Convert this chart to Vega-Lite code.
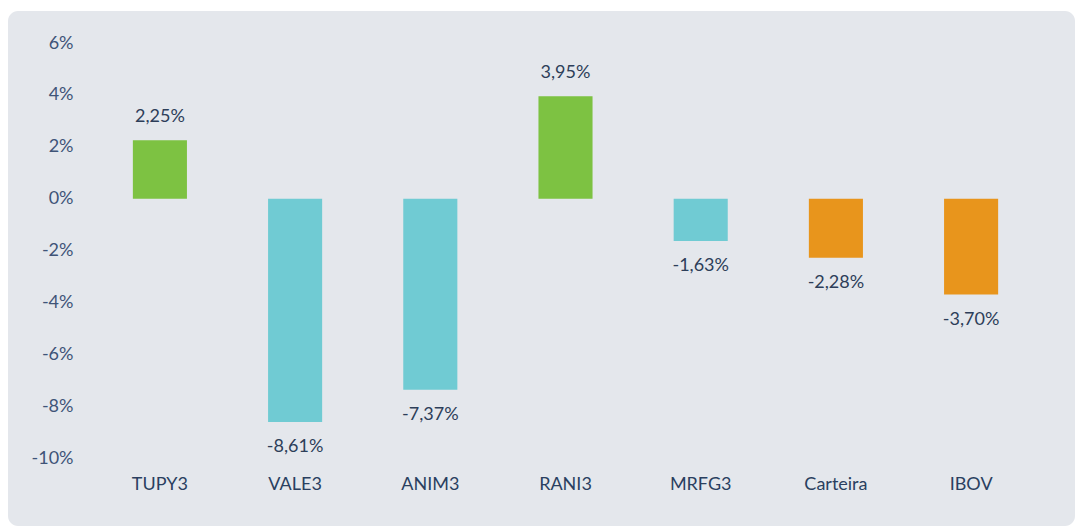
{
  "$schema": "https://vega.github.io/schema/vega-lite/v6.json",
  "autosize": {"type": "none"},
  "padding": {"left": 8, "top": 11, "right": 0, "bottom": 0},
  "width": 1067,
  "height": 515,
  "background": "#ffffff",
  "config": {
    "view": {"fill": "#e4e7ec", "stroke": null, "cornerRadius": 10},
    "font": "Lato"
  },
  "data": {
    "values": [
      {"ticker": "TUPY3", "value": 2.25, "label": "2,25%", "group": "acao_pos"},
      {"ticker": "VALE3", "value": -8.61, "label": "-8,61%", "group": "acao_neg"},
      {"ticker": "ANIM3", "value": -7.37, "label": "-7,37%", "group": "acao_neg"},
      {"ticker": "RANI3", "value": 3.95, "label": "3,95%", "group": "acao_pos"},
      {"ticker": "MRFG3", "value": -1.63, "label": "-1,63%", "group": "acao_neg"},
      {"ticker": "Carteira", "value": -2.28, "label": "-2,28%", "group": "bench"},
      {"ticker": "IBOV", "value": -3.7, "label": "-3,70%", "group": "bench"}
    ]
  },
  "encoding": {
    "x": {
      "field": "ticker",
      "type": "nominal",
      "sort": null,
      "scale": {"paddingInner": 0.6, "paddingOuter": 0.746, "align": 0.619},
      "axis": {
        "title": null,
        "orient": "bottom",
        "offset": -42,
        "domain": false,
        "ticks": false,
        "tickSize": 0,
        "labelPadding": 0,
        "labelBaseline": "middle",
        "labelAngle": 0,
        "labelFontSize": 18,
        "labelFontWeight": 400,
        "labelColor": "#2a3f60",
        "grid": false
      }
    },
    "y": {
      "field": "value",
      "type": "quantitative",
      "scale": {"domain": [-12.62, 7.234], "nice": false, "zero": false},
      "axis": {
        "title": null,
        "offset": -65,
        "domain": false,
        "ticks": false,
        "tickSize": 0,
        "labelPadding": 0,
        "values": [-10, -8, -6, -4, -2, 0, 2, 4, 6],
        "labelExpr": "datum.value + '%'",
        "labelFontSize": 18,
        "labelFontWeight": 400,
        "labelColor": "#3f5478",
        "grid": false
      }
    }
  },
  "layer": [
    {
      "mark": {"type": "bar"},
      "encoding": {
        "y": {"field": "value", "type": "quantitative"},
        "y2": {"datum": 0},
        "color": {
          "field": "group",
          "type": "nominal",
          "scale": {
            "domain": ["acao_pos", "acao_neg", "bench"],
            "range": ["#7dc242", "#70cbd3", "#e8951c"]
          },
          "legend": null
        }
      }
    },
    {
      "transform": [{"filter": "datum.value >= 0"}],
      "mark": {"type": "text", "fontSize": 18, "fontWeight": 400, "color": "#2d3e59", "baseline": "middle", "dy": -23},
      "encoding": {"text": {"field": "label"}}
    },
    {
      "transform": [{"filter": "datum.value < 0"}],
      "mark": {"type": "text", "fontSize": 18, "fontWeight": 400, "color": "#2d3e59", "baseline": "middle", "dy": 25},
      "encoding": {"text": {"field": "label"}}
    }
  ]
}
